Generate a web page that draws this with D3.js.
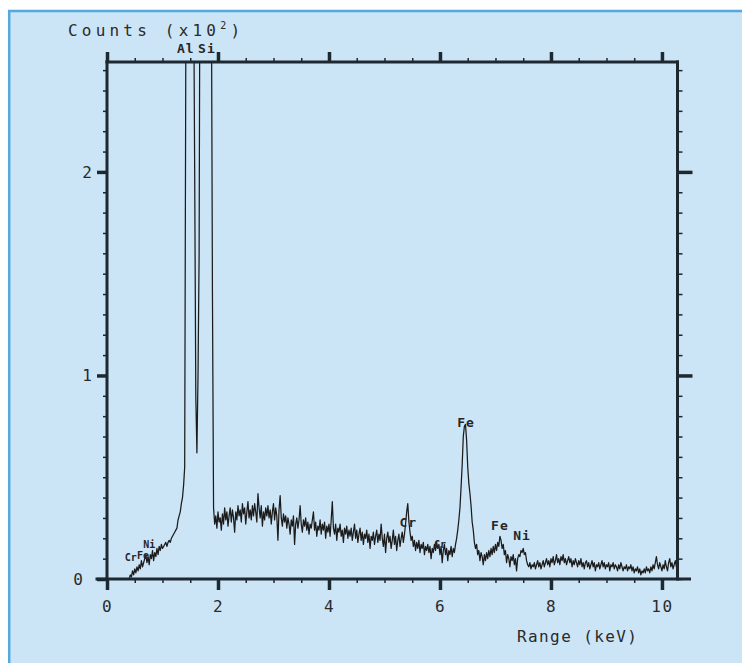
<!DOCTYPE html>
<html><head><meta charset="utf-8">
<script src="https://cdn.jsdelivr.net/npm/d3@7"></script>
<style>body{margin:0;background:#fff}svg{display:block}</style>
</head><body><svg id="c" width="742" height="663"></svg>
<script>
// ---- data ----
const channelStart = 0.40;   // keV of first channel
const channelWidth = 0.02;   // keV per channel
// counts (x10^2) per channel
const counts = [
0.00,0.02,0.01,0.04,0.02,0.05,0.03,0.06,0.04,0.07,0.05,0.09,0.06,0.08,0.10,0.12,0.08,0.11,0.07,0.12,0.10,0.14,0.09,0.13,0.11,
0.15,0.12,0.16,0.14,0.17,0.15,0.16,0.17,0.18,0.16,0.18,0.19,0.18,0.20,0.21,0.22,0.23,0.24,0.25,0.29,0.31,0.33,0.37,0.40,0.46,
0.55,2.6,4.2,5.5,6.2,6.0,5.0,4.0,3.0,2.0,0.9,0.62,1.0,1.6,3.6,6.5,8.8,9.8,9.5,8.2,6.8,5.4,4.4,3.6,3.0,
1.4,0.35,0.27,0.31,0.25,0.33,0.28,0.30,0.24,0.32,0.27,0.35,0.29,0.33,0.26,0.31,0.35,0.28,0.34,0.30,0.23,0.33,0.29,0.36,0.31,
0.34,0.28,0.37,0.32,0.35,0.27,0.33,0.38,0.30,0.34,0.29,0.36,0.31,0.37,0.33,0.28,0.42,0.35,0.30,0.36,0.26,0.33,0.29,0.35,0.31,
0.36,0.30,0.34,0.27,0.33,0.37,0.29,0.35,0.31,0.19,0.34,0.41,0.30,0.26,0.32,0.28,0.31,0.25,0.30,0.27,0.22,0.29,0.26,0.31,0.17,
0.27,0.30,0.25,0.29,0.36,0.27,0.23,0.29,0.26,0.30,0.24,0.28,0.22,0.27,0.25,0.29,0.33,0.24,0.28,0.21,0.26,0.24,0.29,0.22,0.27,
0.24,0.28,0.20,0.26,0.23,0.27,0.21,0.29,0.38,0.25,0.22,0.27,0.19,0.25,0.23,0.27,0.21,0.24,0.18,0.25,0.22,0.26,0.20,0.24,0.21,
0.25,0.19,0.23,0.27,0.20,0.24,0.18,0.22,0.25,0.19,0.23,0.17,0.22,0.20,0.24,0.18,0.22,0.15,0.21,0.19,0.23,0.17,0.21,0.24,0.18,
0.22,0.19,0.27,0.20,0.16,0.22,0.13,0.20,0.23,0.18,0.21,0.15,0.19,0.24,0.17,0.21,0.14,0.19,0.22,0.16,0.20,0.23,0.18,0.22,0.27,
0.33,0.37,0.28,0.23,0.19,0.21,0.16,0.19,0.14,0.18,0.15,0.19,0.13,0.17,0.15,0.18,0.12,0.16,0.14,0.17,0.13,0.16,0.10,0.15,0.13,
0.17,0.14,0.18,0.15,0.17,0.12,0.16,0.08,0.14,0.17,0.12,0.15,0.09,0.14,0.12,0.16,0.11,0.15,0.13,0.17,0.20,0.24,0.29,0.35,0.45,
0.56,0.70,0.75,0.76,0.68,0.55,0.47,0.42,0.36,0.28,0.24,0.18,0.15,0.17,0.12,0.14,0.09,0.13,0.11,0.07,0.12,0.09,0.13,0.10,0.14,
0.11,0.15,0.12,0.16,0.13,0.17,0.14,0.18,0.16,0.21,0.19,0.15,0.17,0.12,0.14,0.08,0.12,0.10,0.06,0.11,0.09,0.12,0.07,0.10,0.04,
0.10,0.12,0.11,0.14,0.13,0.15,0.12,0.13,0.09,0.07,0.06,0.08,0.05,0.07,0.06,0.08,0.05,0.07,0.09,0.06,0.08,0.05,0.07,0.09,0.06,
0.08,0.10,0.07,0.09,0.06,0.10,0.08,0.11,0.07,0.09,0.12,0.08,0.10,0.07,0.11,0.09,0.12,0.08,0.10,0.07,0.09,0.11,0.08,0.10,0.06,
0.09,0.07,0.10,0.08,0.06,0.09,0.07,0.10,0.06,0.08,0.05,0.08,0.09,0.06,0.08,0.05,0.07,0.09,0.06,0.08,0.04,0.07,0.06,0.08,0.05,
0.07,0.09,0.06,0.08,0.05,0.07,0.06,0.08,0.04,0.07,0.06,0.08,0.05,0.07,0.06,0.04,0.07,0.05,0.08,0.06,0.04,0.06,0.05,0.07,0.04,
0.06,0.05,0.07,0.04,0.06,0.03,0.05,0.04,0.06,0.03,0.05,0.02,0.04,0.03,0.05,0.03,0.06,0.04,0.05,0.03,0.06,0.04,0.07,0.05,0.08,
0.11,0.07,0.05,0.08,0.06,0.04,0.07,0.05,0.09,0.06,0.04,0.08,0.10,0.06,0.08,0.05,0.07,0.09,0.06,0.07
];
const xTickValues = [0, 2, 4, 6, 8, 10];
const xTickLabels = ["0", "2", "4", "6", "8", "10"];
const yTickValues = [0, 1, 2];
const yTickLabels = ["0", "1", "2"];
const peakNames    = ["Cr", "Fe", "Ni", "Al", "Si", "Cr", "Cr", "Fe", "Fe", "Ni"];
const peakEnergies = [0.43, 0.65, 0.76, 1.42, 1.80, 5.43, 6.00, 6.47, 7.08, 7.48];
const peakLevels   = [0.09, 0.10, 0.15, 2.585, 2.585, 0.256, 0.15, 0.747, 0.24, 0.19];
const yAxisTitle = "Counts (x10";
const xAxisTitle = "Range (keV)";

// ---- drawing ----
const W = 742, H = 663;
const ink = "#1d2830";
const svg = d3.select("#c");
svg.append("rect").attr("width", W).attr("height", H).attr("fill", "#ffffff");
svg.append("rect").attr("x", 8).attr("y", 10).attr("width", W - 8).attr("height", H - 10).attr("fill", "#cce5f6");
svg.append("line").attr("x1", 8).attr("x2", W).attr("y1", 11).attr("y2", 11).attr("stroke", "#55a9de").attr("stroke-width", 2.5);
svg.append("line").attr("x1", 9.2).attr("x2", 9.2).attr("y1", 10).attr("y2", H).attr("stroke", "#55a9de").attr("stroke-width", 2.5);

const x = d3.scaleLinear().domain([0, 10.28]).range([107, 677.5]);
const y = d3.scaleLinear().domain([0, 2.54]).range([579, 62]);
const [x0, x1] = x.range();
const [y0, y1] = y.range();

svg.append("clipPath").attr("id", "plot").append("rect")
  .attr("x", x0).attr("y", y1).attr("width", x1 - x0).attr("height", y0 - y1);

const line = d3.line()
  .x((d, i) => x(channelStart + i * channelWidth))
  .y(d => y(d));
svg.append("path").datum(counts)
  .attr("clip-path", "url(#plot)")
  .attr("d", line).attr("fill", "none")
  .attr("stroke", "#1b1b1b").attr("stroke-width", 1.25).attr("stroke-linejoin", "round");

function ticksOnly(g, w) {
  g.select(".domain").remove();
  g.selectAll(".tick line").attr("stroke", ink).attr("stroke-width", w);
}
const minorX = d3.range(0, 10.3, 0.5);
const minorY = d3.range(0, 2.55, 0.1);

// minor ticks
svg.append("g").attr("transform", `translate(0,${y0})`)
  .call(d3.axisBottom(x).tickValues(minorX).tickSize(4).tickFormat(""))
  .call(g => ticksOnly(g, 1.5));
svg.append("g").attr("transform", `translate(0,${y1})`)
  .call(d3.axisTop(x).tickValues(minorX).tickSize(4).tickFormat(""))
  .call(g => ticksOnly(g, 1.5));
svg.append("g").attr("transform", `translate(${x0},0)`)
  .call(d3.axisLeft(y).tickValues(minorY).tickSize(4).tickFormat(""))
  .call(g => ticksOnly(g, 1.5));
svg.append("g").attr("transform", `translate(${x1},0)`)
  .call(d3.axisRight(y).tickValues(minorY).tickSize(5).tickFormat(""))
  .call(g => ticksOnly(g, 1.5));

// major ticks
const labelFont = "'DejaVu Sans Mono', monospace";
svg.append("g").attr("transform", `translate(0,${y0})`)
  .call(d3.axisBottom(x).tickValues(xTickValues).tickSize(11).tickPadding(11)
    .tickFormat((d, i) => xTickLabels[i]))
  .call(g => ticksOnly(g, 3.5))
  .call(g => g.selectAll("text").attr("fill", "#2a2a2a").attr("font-size", 16)
    .attr("font-family", labelFont).attr("letter-spacing", 1.5));
svg.append("g").attr("transform", `translate(0,${y1})`)
  .call(d3.axisTop(x).tickValues(xTickValues).tickSize(10).tickFormat(""))
  .call(g => ticksOnly(g, 3.5));
svg.append("g").attr("transform", `translate(${x0},0)`)
  .call(d3.axisLeft(y).tickValues(yTickValues).tickSize(10).tickPadding(5)
    .tickFormat((d, i) => yTickLabels[i]))
  .call(g => ticksOnly(g, 3.5))
  .call(g => g.selectAll("text").attr("fill", "#2a2a2a").attr("font-size", 16)
    .attr("font-family", labelFont)
    .attr("dx", d => d === 0 ? -9 : 0));
svg.append("g").attr("transform", `translate(${x1},0)`)
  .call(d3.axisRight(y).tickValues(yTickValues.filter(v => v > 0)).tickSize(15).tickFormat(""))
  .call(g => ticksOnly(g, 3.5));

// frame lines
const frame = svg.append("g").attr("stroke", ink).attr("stroke-width", 3).attr("stroke-linecap", "square");
frame.append("line").attr("x1", x0 - 10).attr("x2", x1 + 12).attr("y1", y0).attr("y2", y0);
frame.append("line").attr("x1", x0).attr("x2", x1).attr("y1", y1).attr("y2", y1);
frame.append("line").attr("x1", x0).attr("x2", x0).attr("y1", y1).attr("y2", y0);
frame.append("line").attr("x1", x1).attr("x2", x1).attr("y1", y1).attr("y2", y0);

// peak labels
const small = new Set([0, 1, 2, 6]);
svg.append("g").selectAll("text").data(peakNames).join("text")
  .attr("x", (d, i) => x(peakEnergies[i]))
  .attr("y", (d, i) => y(peakLevels[i]))
  .attr("text-anchor", "middle")
  .attr("font-family", labelFont)
  .attr("font-weight", "bold")
  .attr("font-size", (d, i) => small.has(i) ? 10 : 13)
  .attr("letter-spacing", (d, i) => small.has(i) ? 0 : 1)
  .attr("fill", "#262626")
  .text(d => d);

// axis titles
const yt = svg.append("text").attr("x", 68).attr("y", 36)
  .attr("font-family", labelFont).attr("font-size", 16).attr("letter-spacing", 4.2)
  .attr("fill", "#2a2a2a");
yt.append("tspan").text(yAxisTitle);
yt.append("tspan").attr("dy", -7).attr("font-size", 10).text("2");
yt.append("tspan").attr("dy", 7).text(")");

svg.append("text").attr("x", 517).attr("y", 642)
  .attr("font-family", labelFont).attr("font-size", 16).attr("letter-spacing", 1.4)
  .attr("fill", "#2a2a2a").text(xAxisTitle);
</script></body></html>
